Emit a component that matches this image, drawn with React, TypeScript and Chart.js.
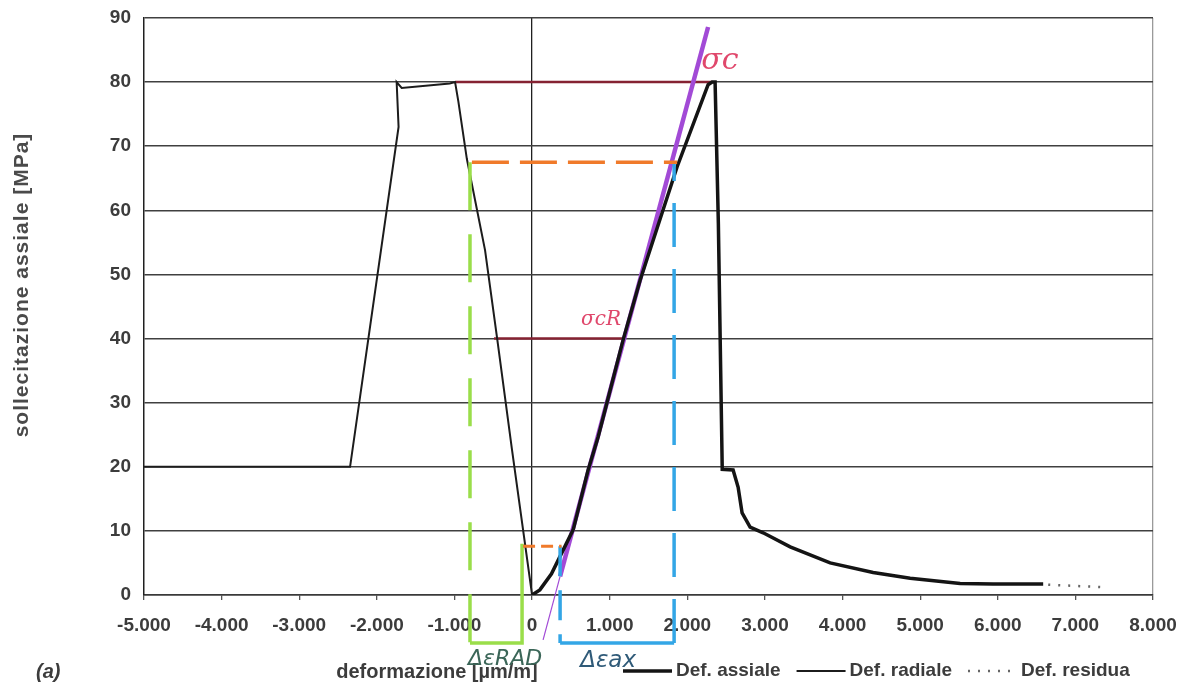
import React, { useEffect, useRef } from 'react';
import { Chart, registerables } from 'chart.js';

Chart.register(...registerables);

// ---- axes ----
const X_MIN = -5000;
const X_MAX = 8000;
const X_STEP = 1000;
const Y_MIN = 0;
const Y_MAX = 90;
const Y_STEP = 10;
const X_TITLE = 'deformazione [µm/m]';
const Y_TITLE = 'sollecitazione assiale [MPa]';
const PANEL_LABEL = '(a)';

// ---- series (deformazione µm/m, sollecitazione MPa) ----
const axialLabel = 'Def. assiale';
const axialX = [0, 100, 250, 400, 530, 722, 850, 1173, 1392, 1869, 2268, 2320, 2358, 2400, 2450, 2590, 2655, 2706, 2809, 2977, 3325, 3840, 4394, 4871, 5515, 5941, 6585];
const axialY = [0, 0.8, 3.3, 7.0, 10.2, 19.5, 24.6, 39.8, 49.1, 66.8, 79.6, 80, 80, 58, 19.6, 19.5, 16.8, 12.8, 10.6, 9.7, 7.5, 5.0, 3.5, 2.6, 1.8, 1.7, 1.7];

const radialLabel = 'Def. radiale';
const radialX = [-5000, -2345, -1720, -1745, -1680, -1060, -992, -950, -840, -606, -451, -258, 0];
const radialY = [20, 20, 73, 80, 79.1, 79.8, 80, 77, 68, 53.8, 40.1, 22.6, 0];

const residualLabel = 'Def. residua';
const residualX = [6650, 7400];
const residualY = [1.6, 1.2];

// ---- hand-drawn annotations ----
const sigmaCLineX = [-992, 2320];
const sigmaCLineY = [80, 80];
const sigmaCrLineX = [-490, 1173];
const sigmaCrLineY = [40, 40];
const orangeHighX = [-775, 1869];
const orangeHighY = [67.5, 67.5];
const orangeLowX = [-116, 380];
const orangeLowY = [7.6, 7.6];
const greenX = [-800, -800, -129, -129];
const greenY = [67.5, -7.5, -7.5, 8];
const blueX = [361, 361, 1830, 1830];
const blueY = [7.6, -7.5, -7.5, 67.5];
const tangentX = [142, 361, 2268];
const tangentY = [-7, 2.9, 88.6];

const noteTexts = ['σc', 'σcR', 'ΔεRAD', 'Δεax'];
const noteX = [2420, 889, -348, 980];
const noteY = [83.3, 42.9, -10.1, -10.3];

const pts = (xs: number[], ys: number[]) => xs.map((x, i) => ({ x, y: ys[i] }));

const fmt = (v: number) => {
  if (v === 0) return '0';
  const s = Math.abs(v).toString().replace(/\B(?=(\d{3})+(?!\d))/g, '.');
  return (v < 0 ? '-' : '') + s;
};

const TEXT = '#3c3c3c';
const FONT = '"Liberation Sans", Arial, sans-serif';

export default function App() {
  const ref = useRef<HTMLCanvasElement>(null);

  useEffect(() => {
    const canvas = ref.current;
    if (!canvas) return;

    const overlay = {
      id: 'overlay',
      afterDraw(chart: any) {
        const ctx = chart.ctx as CanvasRenderingContext2D;
        const xs = chart.scales.x;
        const ys = chart.scales.y;

        // y title
        ctx.save();
        ctx.translate(22, 285);
        ctx.rotate(-Math.PI / 2);
        ctx.font = `bold 21px ${FONT}`;
        (ctx as any).letterSpacing = '1px';
        ctx.fillStyle = '#4a4a4a';
        ctx.textAlign = 'center';
        ctx.textBaseline = 'middle';
        ctx.fillText(Y_TITLE, 0, 0);
        ctx.restore();

        // x title
        ctx.save();
        ctx.font = `bold 20px ${FONT}`;
        ctx.fillStyle = TEXT;
        ctx.textAlign = 'center';
        ctx.textBaseline = 'middle';
        ctx.fillText(X_TITLE, 437, 672);
        // (a)
        ctx.font = `italic bold 20px ${FONT}`;
        ctx.textAlign = 'left';
        ctx.fillText(PANEL_LABEL, 36, 672);
        ctx.restore();

        // legend (first three datasets)
        ctx.save();
        ctx.font = `bold 19px ${FONT}`;
        ctx.textBaseline = 'middle';
        ctx.textAlign = 'left';
        let lx = 623;
        const ly = 671;
        for (let i = 0; i < 3; i++) {
          const ds = chart.data.datasets[i];
          ctx.save();
          ctx.strokeStyle = ds.borderColor;
          ctx.lineWidth = ds.borderWidth;
          ctx.setLineDash(ds.borderDash || []);
          ctx.beginPath();
          ctx.moveTo(lx, ly);
          ctx.lineTo(lx + 49, ly);
          ctx.stroke();
          ctx.restore();
          ctx.fillStyle = TEXT;
          ctx.fillText(ds.label, lx + 53, ly);
          lx += 53 + ctx.measureText(ds.label).width + 16;
        }
        ctx.restore();

        // handwritten notes
        const noteStyle = [
          { font: 'italic 30px "DejaVu Serif"', color: '#e0486c' },
          { font: 'italic 20px "DejaVu Serif"', color: '#e0486c' },
          { font: 'italic 22px "DejaVu Sans"', color: '#3b6658' },
          { font: 'italic 23px "DejaVu Sans"', color: '#2f5a78' },
        ];
        ctx.save();
        ctx.textAlign = 'center';
        ctx.textBaseline = 'middle';
        noteTexts.forEach((t, i) => {
          ctx.font = noteStyle[i].font;
          ctx.fillStyle = noteStyle[i].color;
          ctx.fillText(t, xs.getPixelForValue(noteX[i]), ys.getPixelForValue(noteY[i]));
        });
        ctx.restore();
      },
    };

    const line = (label: string, data: any[], color: string, width: number, extra: any = {}) => ({
      label, data, borderColor: color, borderWidth: width, pointRadius: 0, tension: 0, ...extra,
    });

    const chart = new Chart(canvas, {
      type: 'line',
      data: {
        datasets: [
          line(axialLabel, pts(axialX, axialY), '#141414', 3.5, { order: 2 }),
          line(radialLabel, pts(radialX, radialY), '#1c1c1c', 2, { order: 3 }),
          line(residualLabel, pts(residualX, residualY), '#666666', 2.5, { borderDash: [2, 8], order: 3 }),
          line('tangente', pts(tangentX.slice(0, 2), tangentY.slice(0, 2)), '#a24ad6', 1.2, { clip: false, order: 4 }),
          line('tangente', pts(tangentX.slice(1), tangentY.slice(1)), '#a24ad6', 4.5, { clip: false, order: 4 }),
          line('σc', pts(sigmaCLineX, sigmaCLineY), '#852232', 2.5, { order: 5 }),
          line('σcR', pts(sigmaCrLineX, sigmaCrLineY), '#852232', 2.5, { order: 5 }),
          line('Δσ', pts(orangeHighX, orangeHighY), '#f07a2a', 3.5, { borderDash: [37, 11], order: 1 }),
          line('Δσ0', pts(orangeLowX, orangeLowY), '#f07a2a', 3, { borderDash: [12, 6], order: 1 }),
          line('ΔεRAD', pts(greenX.slice(0, 2), greenY.slice(0, 2)), '#9ade4a', 3.5, { borderDash: [48, 24], clip: false, order: 1 }),
          line('ΔεRAD', pts(greenX.slice(1), greenY.slice(1)), '#9ade4a', 3.5, { clip: false, order: 1 }),
          line('Δεax', pts(blueX.slice(0, 2), blueY.slice(0, 2)), '#33a6e6', 3.5, { borderDash: [30, 14], clip: false, order: 1 }),
          line('Δεax', pts(blueX.slice(1, 3), blueY.slice(1, 3)), '#33a6e6', 3.5, { clip: false, order: 1 }),
          line('Δεax', pts(blueX.slice(2), blueY.slice(2)), '#33a6e6', 3.5, { borderDash: [44, 22], clip: false, order: 1 }),
        ],
      },
      options: {
        responsive: false,
        animation: false,
        events: [],
        layout: { padding: { top: 18, right: 31, left: 0, bottom: 0 } },
        plugins: {
          legend: { display: false },
          tooltip: { enabled: false },
          title: { display: false },
        },
        scales: {
          x: {
            type: 'linear',
            min: X_MIN,
            max: X_MAX,
            afterFit: (s: any) => { s.height = 96; s.paddingLeft = 0; s.paddingRight = 0; },
            ticks: {
              stepSize: X_STEP,
              autoSkip: false,
              maxRotation: 0,
              padding: 14,
              color: TEXT,
              font: { family: FONT, size: 19, weight: 'bold' },
              callback: (v: any) => fmt(Number(v)),
            },
            grid: {
              color: (c: any) => (c.tick && c.tick.value === 0 ? '#202020' : c.tick && c.tick.value === X_MAX ? '#9a9a9a' : 'rgba(0,0,0,0)'),
              lineWidth: 1.3,
              tickColor: '#555555',
              tickLength: 5,
            },
            border: { display: true, color: '#3a3a3a', width: 1.5 },
          },
          y: {
            type: 'linear',
            min: Y_MIN,
            max: Y_MAX,
            afterFit: (s: any) => { s.width = 144; s.paddingTop = 0; s.paddingBottom = 0; },
            ticks: {
              stepSize: Y_STEP,
              padding: 13,
              color: TEXT,
              font: { family: FONT, size: 19, weight: 'bold' },
            },
            grid: { color: '#404040', lineWidth: 1.5, drawTicks: false },
            border: { display: true, color: '#202020', width: 1.5 },
          },
        },
      } as any,
      plugins: [overlay],
    });

    return () => chart.destroy();
  }, []);

  return (
    <div style={{ position: 'fixed', left: 0, top: 0, width: 1184, height: 691, background: '#ffffff' }}>
      <canvas ref={ref} width={1184} height={691} style={{ display: 'block' }} />
    </div>
  );
}
